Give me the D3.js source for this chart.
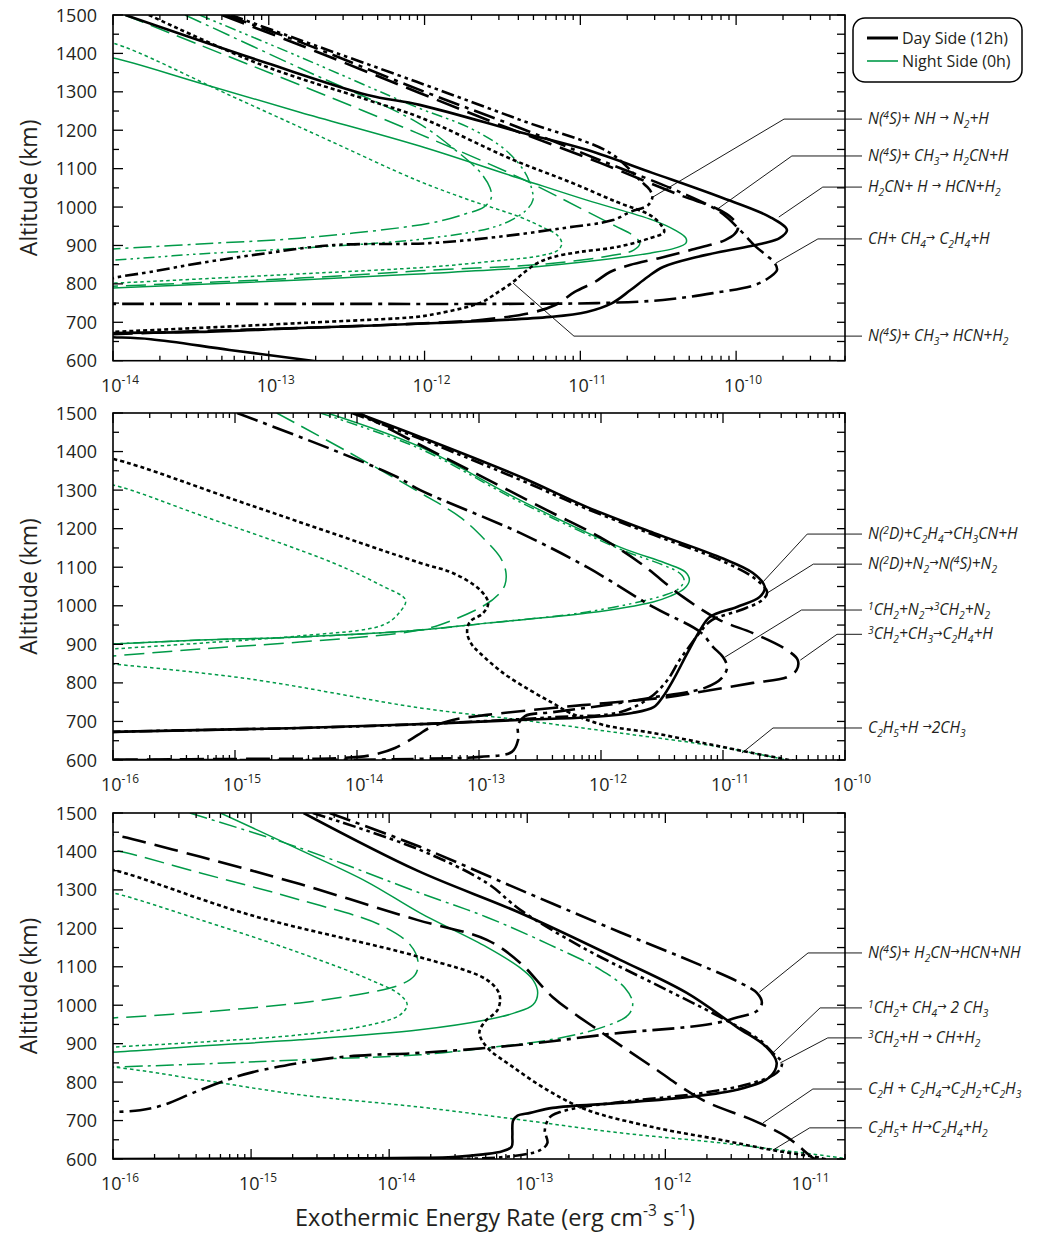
<!DOCTYPE html>
<html><head><meta charset="utf-8">
<script src="https://cdn.jsdelivr.net/npm/d3@7"></script>
<style>body{margin:0;background:#fff}</style>
</head><body>
<svg id="chart" width="1041" height="1234"></svg>
<script>
// Exothermic energy rate profiles: [altitude km, rate erg cm^-3 s^-1]

// ---- Panel 1 : nitrogen / methyl chemistry ----
const p1DayNNH = [[1500,5.7e-14],[1435,1.58e-13],[1326,8.9e-13],[1227,4.1e-12],[1141,1.55e-11],[1070,2.41e-11],[1044,2.8e-11],[1026,2.9e-11],[1005,2.72e-11],[987,2.08e-11],[966,1.62e-11],[945,7.7e-12],[922,2.9e-12],[906,1.08e-12],[901,2.6e-13],[880,9.7e-14],[854,3.6e-14],[831,1.73e-14],[815,1e-14],[797,7e-15]];
const p1DayNCH3H2CN = [[1500,5e-14],[1422,1.58e-13],[1297,9.3e-13],[1214,3.05e-12],[1115,1.34e-11],[1031,4.36e-11],[995,7.6e-11],[971,9.4e-11],[948,1.03e-10],[930,9.8e-11],[914,8.5e-11],[888,5.1e-11],[867,3.2e-11],[849,2.08e-11],[831,1.55e-11],[805,1.24e-11],[779,9.2e-12],[745,6.9e-12],[724,4.75e-12],[706,2.27e-12],[698,1.08e-12],[685,1.58e-13],[677,3.6e-14],[669,1e-14],[665,5e-15]];
const p1DayH2CNH = [[1500,1.2e-14],[1375,9.7e-14],[1292,4.3e-13],[1266,9.3e-13],[1195,4.1e-12],[1149,1.1e-11],[1089,2.9e-11],[1026,7.9e-11],[974,1.65e-10],[940,2.12e-10],[919,1.9e-10],[906,1.5e-10],[870,5.6e-11],[844,3.4e-11],[818,2.7e-11],[784,2.1e-11],[750,1.6e-11],[727,1.1e-11],[714,6.4e-12],[698,1.2e-12],[685,1.6e-13],[675,3.6e-14],[672,1e-14],[669,5e-15],[664,5e-15],[661,1e-14],[656,1.75e-14],[628,5.6e-14],[600,1.9e-13],[595,2.3e-13]];
const p1DayCHCH4 = [[1500,5.3e-14],[1430,1.58e-13],[1305,9.3e-13],[1206,4.1e-12],[1122,1.34e-11],[1039,4.36e-11],[987,7.9e-11],[940,1.06e-10],[899,1.32e-10],[873,1.58e-10],[854,1.77e-10],[836,1.83e-10],[818,1.65e-10],[797,1.32e-10],[776,7.1e-11],[758,3.39e-11],[750,1.28e-11],[748,3.05e-12],[748,1.58e-13],[748,1e-14],[748,5e-15]];
const p1DayNCH3HCN = [[1500,1.7e-14],[1370,9e-14],[1279,4.3e-13],[1234,9.3e-13],[1123,3.7e-12],[1065,8.6e-12],[1013,1.72e-11],[979,2.8e-11],[953,3.3e-11],[935,3.45e-11],[919,2.8e-11],[896,1.72e-11],[883,9.9e-12],[870,6.7e-12],[854,5.3e-12],[828,4.3e-12],[805,3.7e-12],[776,2.9e-12],[753,2.35e-12],[737,1.76e-12],[719,1.08e-12],[714,8.9e-13],[698,1.6e-13],[675,1e-14],[668,4e-15]];

const p1NightNNH = [[1500,3.6e-14],[1391,1.58e-13],[1260,8.9e-13],[1206,1.95e-12],[1149,3.3e-12],[1091,4.4e-12],[1044,4.9e-12],[1018,4.96e-12],[992,4.5e-12],[953,3.05e-12],[919,1.08e-12],[893,1.58e-13],[878,3.6e-14],[862,1e-14],[860,7e-15]];
const p1NightNCH3H2CN = [[1500,1.19e-14],[1422,3.6e-14],[1318,1.58e-13],[1193,8.9e-13],[1076,4.1e-12],[998,9.9e-12],[951,1.67e-11],[925,2.2e-11],[906,2.41e-11],[888,2.2e-11],[873,1.55e-11],[852,6.0e-12],[834,9.3e-13],[815,1.58e-13],[794,1e-14],[792,7e-15]];
const p1NightH2CNH = [[1395,7e-15],[1388,1e-14],[1323,3.6e-14],[1247,1.58e-13],[1159,9.3e-13],[1070,4.4e-12],[1018,1.1e-11],[966,2.92e-11],[940,4.05e-11],[919,4.76e-11],[906,4.76e-11],[893,4.05e-11],[880,2.8e-11],[862,1.34e-11],[841,4.1e-12],[826,9.3e-13],[810,1.58e-13],[789,1e-14],[787,7e-15]];
const p1NightCHCH4 = [[1500,2.9e-14],[1362,1.58e-13],[1221,8.9e-13],[1149,1.57e-12],[1091,2.27e-12],[1050,2.63e-12],[1024,2.68e-12],[1000,2.4e-12],[982,1.82e-12],[958,1.08e-12],[919,1.58e-13],[904,3.6e-14],[891,1e-14],[888,7e-15]];
const p1NightNCH3HCN = [[1435,7e-15],[1427,1e-14],[1287,5.9e-14],[1178,2.3e-13],[1070,8.9e-13],[1018,1.95e-12],[974,4.1e-12],[945,5.9e-12],[927,7.1e-12],[906,7.6e-12],[888,7.2e-12],[873,5.5e-12],[860,2.9e-12],[844,1.08e-12],[826,1.58e-13],[802,1e-14],[800,7e-15]];

// ---- Panel 2 : N(2D) and CH2 chemistry ----
const p2DayN2DC2H4 = [[1500,1.0e-14],[1438,3.3e-14],[1334,2.2e-13],[1256,7.7e-13],[1189,2.7e-12],[1126,9.4e-12],[1085,1.76e-11],[1049,2.2e-11],[1023,2.0e-11],[997,1.3e-11],[971,7.8e-12],[937,6.5e-12],[877,5.1e-12],[807,3.9e-12],[763,3.2e-12],[737,2.7e-12],[722,1.8e-12],[711,7.7e-13],[704,2.2e-13],[693,3.3e-14],[683,3.4e-15],[673,1e-16],[670,6e-17]];
const p2DayN2DN2 = [[1500,9.1e-15],[1433,3.3e-14],[1326,2.2e-13],[1251,7.7e-13],[1184,2.7e-12],[1119,9.4e-12],[1072,1.8e-11],[1036,2.3e-11],[1015,2.1e-11],[989,1.4e-11],[963,8.1e-12],[932,6.5e-12],[898,5.4e-12],[859,4.4e-12],[807,3.5e-12],[761,2.5e-12],[724,1.43e-12],[711,4.0e-13],[693,3.3e-14],[683,3.4e-15],[673,1e-16],[670,6e-17]];
const p2Day1CH2N2 = [[1500,1.04e-15],[1404,6.4e-15],[1334,2.13e-14],[1300,3.3e-14],[1189,2.17e-13],[1100,7.7e-13],[997,2.67e-12],[932,6.5e-12],[893,8.3e-12],[867,1.0e-11],[841,1.08e-11],[813,9.8e-12],[787,7.1e-12],[761,2.5e-12],[740,9.8e-13],[724,4.0e-13],[714,2.38e-13],[691,2.09e-13],[652,2.09e-13],[621,1.86e-13],[608,1.02e-13],[603,3.3e-14],[600,3.4e-15],[600,1e-16]];
const p2Day3CH2CH3 = [[1500,1.04e-14],[1417,3.3e-14],[1339,1.0e-13],[1248,3.6e-13],[1178,9.8e-13],[1111,2.09e-12],[1023,4.7e-12],[963,9.4e-12],[929,1.76e-11],[885,3.35e-11],[859,4.1e-11],[833,4.0e-11],[815,3.35e-11],[800,1.76e-11],[781,7.8e-12],[763,3.5e-12],[748,1.12e-12],[735,4.0e-13],[717,1.16e-13],[704,6.1e-14],[683,3.9e-14],[665,3.16e-14],[631,2.05e-14],[613,1.33e-14],[605,7.3e-15],[603,1.33e-15],[601,1e-16]];
const p2DayC2H5H = [[1390,6e-17],[1381,1e-16],[1261,1.33e-15],[1111,3.3e-14],[1085,6.1e-14],[1041,1.02e-13],[1007,1.19e-13],[981,1.08e-13],[958,8.4e-14],[929,8.0e-14],[898,8.8e-14],[877,1.02e-13],[826,1.57e-13],[781,2.62e-13],[748,4.0e-13],[722,5.6e-13],[691,1.04e-12],[670,2.67e-12],[644,6.9e-12],[618,1.76e-11],[600,3.5e-11],[595,4.2e-11]];

const p2NightN2DC2H4 = [[1500,5.7e-15],[1412,3.3e-14],[1274,2.17e-13],[1152,1.43e-12],[1111,3.35e-12],[1088,4.9e-12],[1067,5.3e-12],[1044,4.8e-12],[1025,3.7e-12],[1010,2.67e-12],[981,7.7e-13],[955,1.16e-13],[937,3.3e-14],[919,3.4e-15],[911,5.2e-16],[901,1e-16],[898,6.5e-17]];
const p2NightN2DN2 = [[1500,5e-15],[1407,3.3e-14],[1269,2.17e-13],[1147,1.43e-12],[1106,3.2e-12],[1085,4.4e-12],[1067,4.8e-12],[1046,4.4e-12],[1028,3.35e-12],[984,7.7e-13],[955,1.16e-13],[937,3.3e-14],[919,3.4e-15],[911,5.2e-16],[901,1e-16],[898,6.5e-17]];
const p2Night3CH2CH3 = [[1500,2.2e-15],[1396,8.8e-15],[1298,3.1e-14],[1230,7.0e-14],[1171,1.12e-13],[1126,1.49e-13],[1088,1.66e-13],[1054,1.63e-13],[1028,1.43e-13],[1002,1.12e-13],[963,6.1e-14],[937,3.3e-14],[906,3.4e-15],[888,5.2e-16],[870,1e-16],[867,6.5e-17]];
const p2NightC2H5H = [[1320,6e-17],[1313,1e-16],[1235,5.2e-16],[1111,6.4e-15],[1054,1.55e-14],[1015,2.5e-14],[984,2.25e-14],[950,1.63e-14],[922,3.4e-15],[903,5.2e-16],[888,1e-16],[880,4e-17],[860,4e-17],[849,1e-16],[810,1.33e-15],[735,3.3e-14],[704,2.17e-13],[670,1.43e-12],[634,9.4e-12],[600,3.35e-11],[595,4e-11]];

// ---- Panel 3 : hydrocarbon chemistry ----
const p3DayNH2CN = [[1500,3.7e-15],[1412,1.67e-14],[1300,8.9e-14],[1190,4.7e-13],[1105,1.78e-12],[1058,3.5e-12],[1032,4.6e-12],[1006,5.0e-12],[985,4.6e-12],[967,3.2e-12],[956,2.5e-12],[943,1.43e-12],[928,4.7e-13],[897,8.9e-14],[876,1.67e-14],[871,7.6e-15],[863,3.9e-15],[850,2.26e-15],[826,1.03e-15],[806,6.7e-16],[772,3.8e-16],[740,2.3e-16],[727,1.57e-16],[722,1e-16],[720,6.8e-17]];
const p3Day1CH2CH4 = [[1500,2.8e-15],[1404,1.67e-14],[1318,5.1e-14],[1248,8.9e-14],[1144,2.7e-13],[1058,8.1e-13],[969,2.5e-12],[910,4.8e-12],[876,6.0e-12],[850,7.0e-12],[824,6.4e-12],[798,4.3e-12],[772,1.87e-12],[748,4.7e-13],[733,2.3e-13],[722,1.73e-13],[709,1.46e-13],[675,1.34e-13],[642,1.4e-13],[623,1.24e-13],[605,6.7e-14],[600,1.67e-14]];
const p3Day3CH2H = [[1500,2.4e-15],[1350,1.6e-14],[1240,8.9e-14],[1118,4.7e-13],[1032,1.43e-12],[943,3.3e-12],[891,5.4e-12],[850,6.4e-12],[813,5.7e-12],[780,3.3e-12],[761,1.43e-12],[746,4.7e-13],[733,1.53e-13],[720,1.05e-13],[713,8.5e-14],[700,7.9e-14],[660,7.8e-14],[632,7.7e-14],[620,6.6e-14],[612,4.8e-14],[605,2.9e-14],[603,1.67e-14],[602,7.3e-15],[601,1e-15],[600,1e-16]];
const p3DayC2HC2H4 = [[1450,6.8e-17],[1443,1e-16],[1386,4.3e-16],[1315,2.26e-15],[1222,1.59e-14],[1170,5.1e-14],[1110,8.9e-14],[1021,1.53e-13],[928,3.5e-13],[839,8.1e-13],[753,1.87e-12],[701,4.3e-12],[657,7.6e-12],[603,1.17e-11],[595,1.3e-11]];
const p3DayC2H5H = [[1360,6.8e-17],[1352,1e-16],[1235,9.8e-16],[1125,1.67e-14],[1066,5.1e-14],[1027,6.3e-14],[988,6.1e-14],[956,4.9e-14],[928,4.5e-14],[891,5.1e-14],[839,7.9e-14],[780,1.39e-13],[728,2.7e-13],[683,8.1e-13],[650,2.5e-12],[623,6.0e-12],[603,1.32e-11],[595,1.6e-11]];

const p3NightNH2CN = [[1500,3.6e-16],[1409,2.26e-15],[1292,1.67e-14],[1229,5.1e-14],[1157,1.46e-13],[1092,3.4e-13],[1045,5.1e-13],[1006,5.8e-13],[975,5.4e-13],[941,3.4e-13],[910,1.46e-13],[889,5.1e-14],[871,1.67e-14],[858,2.26e-15],[847,4.3e-16],[839,1e-16],[837,6.8e-17]];
const p3Night3CH2H = [[1500,6.0e-16],[1404,2.26e-15],[1321,6.9e-15],[1240,1.67e-14],[1151,5.1e-14],[1097,8.9e-14],[1066,1.1e-13],[1032,1.19e-13],[1001,1.1e-13],[980,8.1e-14],[962,5.1e-14],[936,1.67e-14],[910,2.26e-15],[894,4.3e-16],[878,1e-16],[876,6.8e-17]];
const p3NightC2HC2H4 = [[1410,6.8e-17],[1404,1e-16],[1344,4.3e-16],[1274,2.26e-15],[1209,8.6e-15],[1157,1.42e-14],[1112,1.62e-14],[1079,1.54e-14],[1053,1.2e-14],[1032,6.9e-15],[1006,2.26e-15],[982,4.3e-16],[967,1e-16],[964,6.8e-17]];
const p3NightC2H5H = [[1300,6.8e-17],[1292,1e-16],[1222,4.3e-16],[1136,2.26e-15],[1066,7.3e-15],[1027,1.2e-14],[1001,1.35e-14],[975,1.2e-14],[949,7.3e-15],[923,2.26e-15],[904,4.3e-16],[891,1e-16],[880,4e-17],[845,4e-17],[839,1e-16],[806,4.3e-16],[767,2.26e-15],[735,1.67e-14],[702,8.9e-14],[668,4.7e-13],[642,2.5e-12],[616,9.9e-12],[603,1.84e-11],[598,2.2e-11]];

// ---- axis tick values ----
const altitudeTicks = [600,700,800,900,1000,1100,1200,1300,1400,1500];
const p1Decades = [-14,-13,-12,-11,-10];
const p2Decades = [-16,-15,-14,-13,-12,-11,-10];
const p3Decades = [-16,-15,-14,-13,-12,-11];

// ---- reaction labels: leader elbow and leader end in data units [alt, rate] ----
const p1Labels = [
  {text:"N(^{4}S)+ NH → N_{2}+H", elbow:[1229,2.03e-10], end:[1026,2.92e-11]},
  {text:"N(^{4}S)+ CH_{3}→ H_{2}CN+H", elbow:[1133,2.28e-10], end:[995,7.6e-11]},
  {text:"H_{2}CN+ H → HCN+H_{2}", elbow:[1052,3.6e-10], end:[974,1.88e-10]},
  {text:"CH+ CH_{4}→ C_{2}H_{4}+H", elbow:[917,3.35e-10], end:[854,1.8e-10]},
  {text:"N(^{4}S)+ CH_{3}→ HCN+H_{2}", elbow:[664,9.1e-12], end:[802,3.7e-12]}
];
const p2Labels = [
  {text:"N(^{2}D)+C_{2}H_{4}→CH_{3}CN+H", elbow:[1186,4.9e-11], end:[1062,2.13e-11]},
  {text:"N(^{2}D)+N_{2}→N(^{4}S)+N_{2}", elbow:[1108,5.5e-11], end:[1033,2.3e-11]},
  {text:"^{1}CH_{2}+N_{2}→^{3}CH_{2}+N_{2}", elbow:[989,4.4e-11], end:[867,1.04e-11]},
  {text:"^{3}CH_{2}+CH_{3}→C_{2}H_{4}+H", elbow:[926,8.6e-11], end:[859,4.3e-11]},
  {text:"C_{2}H_{5}+H →2CH_{3}", elbow:[683,2.57e-11], end:[618,1.43e-11]}
];
const p3Labels = [
  {text:"N(^{4}S)+ H_{2}CN→HCN+NH", elbow:[1136,1.08e-11], end:[1034,4.8e-12]},
  {text:"^{1}CH_{2}+ CH_{4}→ 2 CH_{3}", elbow:[993,1.32e-11], end:[876,6.0e-12]},
  {text:"^{3}CH_{2}+H → CH+H_{2}", elbow:[915,1.5e-11], end:[850,6.8e-12]},
  {text:"C_{2}H + C_{2}H_{4}→C_{2}H_{2}+C_{2}H_{3}", elbow:[782,1.17e-11], end:[694,5.1e-12]},
  {text:"C_{2}H_{5}+ H→C_{2}H_{4}+H_{2}", elbow:[681,1.11e-11], end:[623,6.0e-12]}
];

const legendItems = ["Day Side (12h)", "Night Side (0h)"];

// ---- styling ----
const DAY = "#000000", NIGHT = "#009a48";
const FONT = "'Open Sans', 'Noto Sans', sans-serif";
const TEXT = "#231f20";
const dayDash = {solid:null, dotted:"4,3", longdash:"24,9", dashdot:"22,6,4,6", dashdotdot:"13,4,3.5,4,3.5,4"};
const nightDash = {solid:null, dotted:"3.5,3", longdash:"20,8", dashdot:"18,5,3,5", dashdotdot:"11,4,2.5,4,2.5,4"};

const panels = [
  {top:15, bottom:360.7, xDomain:[1e-14,5e-10], decades:p1Decades, labels:p1Labels,
   series:[
    {d:p1NightNNH, n:true, s:"dashdotdot"},{d:p1NightNCH3H2CN, n:true, s:"longdash"},
    {d:p1NightH2CNH, n:true, s:"solid"},{d:p1NightCHCH4, n:true, s:"dashdot"},
    {d:p1NightNCH3HCN, n:true, s:"dotted"},
    {d:p1DayNNH, n:false, s:"dashdotdot"},{d:p1DayNCH3H2CN, n:false, s:"longdash"},
    {d:p1DayH2CNH, n:false, s:"solid"},{d:p1DayCHCH4, n:false, s:"dashdot"},
    {d:p1DayNCH3HCN, n:false, s:"dotted"}]},
  {top:413, bottom:760, xDomain:[1e-16,1e-10], decades:p2Decades, labels:p2Labels,
   series:[
    {d:p2NightN2DC2H4, n:true, s:"solid"},{d:p2NightN2DN2, n:true, s:"dashdotdot"},
    {d:p2Night3CH2CH3, n:true, s:"longdash"},{d:p2NightC2H5H, n:true, s:"dotted"},
    {d:p2DayN2DC2H4, n:false, s:"solid"},{d:p2DayN2DN2, n:false, s:"dashdotdot"},
    {d:p2Day1CH2N2, n:false, s:"dashdot"},{d:p2Day3CH2CH3, n:false, s:"longdash"},
    {d:p2DayC2H5H, n:false, s:"dotted"}]},
  {top:813, bottom:1159, xDomain:[1e-16,2e-11], decades:p3Decades, labels:p3Labels,
   series:[
    {d:p3NightNH2CN, n:true, s:"dashdot"},{d:p3Night3CH2H, n:true, s:"solid"},
    {d:p3NightC2HC2H4, n:true, s:"longdash"},{d:p3NightC2H5H, n:true, s:"dotted"},
    {d:p3DayNH2CN, n:false, s:"dashdot"},{d:p3Day1CH2CH4, n:false, s:"dashdotdot"},
    {d:p3Day3CH2H, n:false, s:"solid"},{d:p3DayC2HC2H4, n:false, s:"longdash"},
    {d:p3DayC2H5H, n:false, s:"dotted"}]}
];

const LEFT = 113, RIGHT = 845, LABEL_X = 868;
const svg = d3.select("#chart");

// rich text with ^{sup}, _{sub} and a small arrow glyph
function richText(sel, str, size, isLabel) {
  const parts = str.split(/(\^\{[^}]*\}|_\{[^}]*\}|→)/).filter(s => s.length);
  let shift = 0;
  parts.forEach(p => {
    let txt = p, fs = size, target = 0, fam = null, style = null;
    if (p.startsWith("^{")) { txt = p.slice(2,-1); target = isLabel ? -0.33*size : -0.42*size; fs = size*0.66; }
    else if (p.startsWith("_{")) { txt = p.slice(2,-1); target = 0.26*size; fs = size*0.66; }
    else if (p === "→" && isLabel) { target = -0.18*size; fs = size*0.72; fam = "'DejaVu Sans', sans-serif"; style = "normal"; }
    const ts = sel.append("tspan").attr("dy", (target - shift).toFixed(2)).attr("font-size", fs).text(txt);
    if (fam) ts.attr("font-family", fam).attr("font-style", style);
    shift = target;
  });
}

panels.forEach((P, pi) => {
  const x = d3.scaleLog().domain(P.xDomain).range([LEFT, RIGHT]);
  const y = d3.scaleLinear().domain([600,1500]).range([P.bottom, P.top]);
  const g = svg.append("g");
  const clipId = "clip" + pi;
  svg.append("clipPath").attr("id", clipId).append("rect")
    .attr("x", LEFT).attr("y", P.top).attr("width", RIGHT-LEFT).attr("height", P.bottom-P.top);

  const line = d3.line().x(d => x(d[1])).y(d => y(d[0])).curve(d3.curveCatmullRom.alpha(0.5));
  const curves = g.append("g").attr("clip-path", `url(#${clipId})`);
  P.series.forEach(S => {
    curves.append("path").datum(S.d).attr("d", line)
      .attr("fill", "none")
      .attr("stroke", S.n ? NIGHT : DAY)
      .attr("stroke-width", S.n ? 1.5 : 2.6)
      .attr("stroke-dasharray", (S.n ? nightDash : dayDash)[S.s])
      .attr("stroke-linejoin", "round");
  });

  // frame
  g.append("rect").attr("x", LEFT).attr("y", P.top).attr("width", RIGHT-LEFT).attr("height", P.bottom-P.top)
    .attr("fill", "none").attr("stroke", "#000").attr("stroke-width", 1.6);

  // altitude ticks (inward, both sides)
  const tk = g.append("g");
  d3.range(600,1501,50).forEach(a => {
    const major = a % 100 === 0;
    tk.append("line").attr("x1", LEFT).attr("x2", LEFT + (major ? 10 : 6)).attr("y1", y(a)).attr("y2", y(a));
    tk.append("line").attr("x1", RIGHT).attr("x2", RIGHT - 8).attr("y1", y(a)).attr("y2", y(a));
  });
  altitudeTicks.forEach(a => {
    g.append("text").attr("x", 97).attr("y", y(a) + 6.5).attr("text-anchor", "end")
      .attr("font-family", FONT).attr("font-size", 18).attr("fill", TEXT).text(a);
  });

  // rate ticks (log, inward, top and bottom)
  const lo = Math.floor(Math.log10(P.xDomain[0])), hi = Math.ceil(Math.log10(P.xDomain[1]));
  for (let k = lo; k <= hi; k++) {
    for (let m = 1; m <= 9; m++) {
      const v = m * Math.pow(10, k);
      if (v < P.xDomain[0]*0.999 || v > P.xDomain[1]*1.001) continue;
      const len = m === 1 ? 10 : 5;
      tk.append("line").attr("x1", x(v)).attr("x2", x(v)).attr("y1", P.bottom).attr("y2", P.bottom - len);
      tk.append("line").attr("x1", x(v)).attr("x2", x(v)).attr("y1", P.top).attr("y2", P.top + len);
    }
  }
  tk.selectAll("line").attr("stroke", "#000").attr("stroke-width", 1.3);

  P.decades.forEach(k => {
    const t = g.append("text").attr("x", x(Math.pow(10, k)) - 12).attr("y", P.bottom + 31)
      .attr("font-family", FONT).attr("font-size", 18).attr("fill", TEXT);
    richText(t, "10^{" + k + "}", 18, false);
  });

  // y title
  g.append("text").attr("transform", `translate(37,${(P.top + P.bottom)/2}) rotate(-90)`)
    .attr("text-anchor", "middle").attr("font-family", FONT).attr("font-size", 23).attr("fill", TEXT)
    .text("Altitude (km)");

  // reaction labels with leader lines
  P.labels.forEach(L => {
    const ex = x(L.elbow[1]), ey = y(L.elbow[0]);
    const px = x(L.end[1]), py = y(L.end[0]);
    g.append("polyline").attr("points", `${px},${py} ${ex},${ey} ${LABEL_X - 6},${ey}`)
      .attr("fill", "none").attr("stroke", "#000").attr("stroke-width", 0.9);
    const t = g.append("text").attr("x", LABEL_X).attr("y", ey + 5)
      .attr("font-family", FONT).attr("font-style", "italic").attr("font-size", 15.5).attr("fill", TEXT);
    richText(t, L.text, 15.5, true);
  });
});

// x title
const xt = svg.append("text").attr("x", 495).attr("y", 1226).attr("text-anchor", "middle")
  .attr("font-family", FONT).attr("font-size", 23.5).attr("fill", TEXT);
richText(xt, "Exothermic Energy Rate (erg cm^{-3} s^{-1})", 23.5, false);

// legend
const lg = svg.append("g");
lg.append("rect").attr("x", 853).attr("y", 18).attr("width", 169).attr("height", 64).attr("rx", 12)
  .attr("fill", "#fff").attr("stroke", "#000").attr("stroke-width", 1.5);
legendItems.forEach((name, i) => {
  const yy = 38 + i * 23;
  lg.append("line").attr("x1", 867).attr("x2", 898).attr("y1", yy).attr("y2", yy)
    .attr("stroke", i === 0 ? DAY : NIGHT).attr("stroke-width", i === 0 ? 3 : 1.6);
  lg.append("text").attr("x", 902).attr("y", yy + 5.5).attr("font-family", FONT).attr("font-size", 16)
    .attr("fill", TEXT).text(name);
});
</script>
</body></html>
